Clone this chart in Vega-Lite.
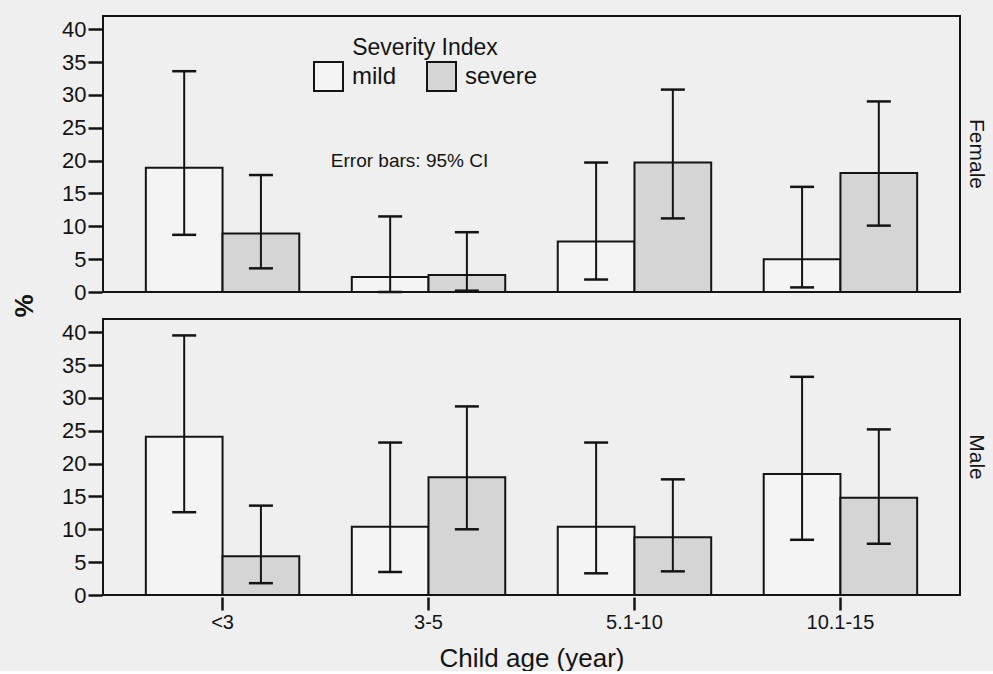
{
  "$schema": "https://vega.github.io/schema/vega-lite/v6.json",
  "background": "#efefef",
  "padding": {"left": 12, "top": 15, "right": 6, "bottom": 0},
  "config": {
    "font": "Liberation Sans",
    "view": {"stroke": "#141414", "strokeWidth": 2},
    "axis": {"grid": false, "domainColor": "#141414", "tickColor": "#141414", "labelColor": "#141414", "titleColor": "#141414", "domainWidth": 2, "tickWidth": 2.5},
    "axisY": {"labelOverlap": false, "labelFlush": false, "labelFontSize": 22, "tickSize": 14, "domain": false, "labelPadding": 2, "tickCount": 9}
  },
  "data": {
    "values": [
      {"sex": "Female", "age": "<3", "severity": "mild", "pct": 18.9, "lo": 8.7, "hi": 33.6},
      {"sex": "Female", "age": "<3", "severity": "severe", "pct": 8.9, "lo": 3.6, "hi": 17.8},
      {"sex": "Female", "age": "3-5", "severity": "mild", "pct": 2.3, "lo": 0.0, "hi": 11.5},
      {"sex": "Female", "age": "3-5", "severity": "severe", "pct": 2.6, "lo": 0.2, "hi": 9.1},
      {"sex": "Female", "age": "5.1-10", "severity": "mild", "pct": 7.7, "lo": 1.9, "hi": 19.7},
      {"sex": "Female", "age": "5.1-10", "severity": "severe", "pct": 19.7, "lo": 11.2, "hi": 30.8},
      {"sex": "Female", "age": "10.1-15", "severity": "mild", "pct": 5.0, "lo": 0.7, "hi": 16.0},
      {"sex": "Female", "age": "10.1-15", "severity": "severe", "pct": 18.1, "lo": 10.1, "hi": 29.0},
      {"sex": "Male", "age": "<3", "severity": "mild", "pct": 24.1, "lo": 12.6, "hi": 39.5},
      {"sex": "Male", "age": "<3", "severity": "severe", "pct": 5.9, "lo": 1.8, "hi": 13.6},
      {"sex": "Male", "age": "3-5", "severity": "mild", "pct": 10.4, "lo": 3.5, "hi": 23.2},
      {"sex": "Male", "age": "3-5", "severity": "severe", "pct": 17.9, "lo": 10.0, "hi": 28.7},
      {"sex": "Male", "age": "5.1-10", "severity": "mild", "pct": 10.4, "lo": 3.3, "hi": 23.2},
      {"sex": "Male", "age": "5.1-10", "severity": "severe", "pct": 8.8, "lo": 3.6, "hi": 17.6},
      {"sex": "Male", "age": "10.1-15", "severity": "mild", "pct": 18.4, "lo": 8.4, "hi": 33.2},
      {"sex": "Male", "age": "10.1-15", "severity": "severe", "pct": 14.8, "lo": 7.8, "hi": 25.2},
      {"sex": "Female", "age": "3-5", "note": "Error bars: 95% CI", "ny": 20}
    ]
  },
  "facet": {
    "row": {
      "field": "sex",
      "type": "nominal",
      "sort": ["Female", "Male"],
      "title": "%",
      "header": {
        "titleOrient": "left",
        "titleFontSize": 26,
        "titleFontWeight": "bold",
        "titleColor": "#141414",
        "titlePadding": 13,
        "labelOrient": "right",
        "labelAngle": 90,
        "labelFontSize": 21,
        "labelColor": "#141414",
        "labelPadding": 5
      }
    }
  },
  "spacing": {"row": 23},
  "spec": {
    "width": 857,
    "height": 276,
    "encoding": {
      "x": {
        "field": "age",
        "type": "nominal",
        "sort": ["<3", "3-5", "5.1-10", "10.1-15"],
        "scale": {"paddingInner": 0.255, "paddingOuter": 0.208},
        "title": "Child age (year)",
        "axis": {"labelAngle": 0, "labelFontSize": 20, "tickSize": 13, "titleFontSize": 26, "titleFontWeight": "normal", "titlePadding": 13, "labelPadding": 2, "domain": false}
      }
    },
    "layer": [
      {
        "transform": [{"filter": "datum.pct != null"}],
        "mark": {"type": "bar", "stroke": "#141414", "strokeWidth": 2},
        "encoding": {
          "xOffset": {"field": "severity", "type": "nominal", "sort": ["mild", "severe"], "scale": {"paddingInner": 0, "paddingOuter": 0}},
          "y": {"field": "pct", "type": "quantitative", "title": null, "scale": {"domain": [0, 42], "nice": false}},
          "fill": {
            "field": "severity",
            "type": "nominal",
            "scale": {"domain": ["mild", "severe"], "range": ["#f4f4f4", "#d5d5d5"]},
            "legend": {
              "title": "Severity Index",
              "orient": "none",
              "legendX": 210,
              "legendY": 21,
              "direction": "horizontal",
              "titleFontSize": 23,
              "titleFontWeight": "normal",
              "titleColor": "#141414",
              "titleAnchor": "middle",
              "titlePadding": 1,
              "labelFontSize": 24,
              "labelColor": "#141414",
              "labelOffset": 8,
              "columnPadding": 26,
              "symbolType": "square",
              "symbolSize": 841,
              "symbolStrokeColor": "#141414",
              "symbolStrokeWidth": 2
            }
          }
        }
      },
      {
        "transform": [{"filter": "datum.pct != null"}],
        "mark": {"type": "rule", "stroke": "#141414", "strokeWidth": 2},
        "encoding": {
          "xOffset": {"field": "severity", "type": "nominal", "sort": ["mild", "severe"]},
          "y": {"field": "lo", "type": "quantitative", "title": null},
          "y2": {"field": "hi"}
        }
      },
      {
        "transform": [{"filter": "datum.pct != null"}],
        "mark": {"type": "tick", "color": "#141414", "size": 24, "thickness": 2.5, "opacity": 1},
        "encoding": {
          "xOffset": {"field": "severity", "type": "nominal", "sort": ["mild", "severe"]},
          "y": {"field": "lo", "type": "quantitative", "title": null}
        }
      },
      {
        "transform": [{"filter": "datum.pct != null"}],
        "mark": {"type": "tick", "color": "#141414", "size": 24, "thickness": 2.5, "opacity": 1},
        "encoding": {
          "xOffset": {"field": "severity", "type": "nominal", "sort": ["mild", "severe"]},
          "y": {"field": "hi", "type": "quantitative", "title": null}
        }
      },
      {
        "transform": [{"filter": "datum.note != null"}],
        "mark": {"type": "text", "fontSize": 19, "color": "#141414", "dx": -19, "baseline": "middle"},
        "encoding": {
          "y": {"field": "ny", "type": "quantitative", "title": null},
          "text": {"field": "note"}
        }
      }
    ]
  }
}
